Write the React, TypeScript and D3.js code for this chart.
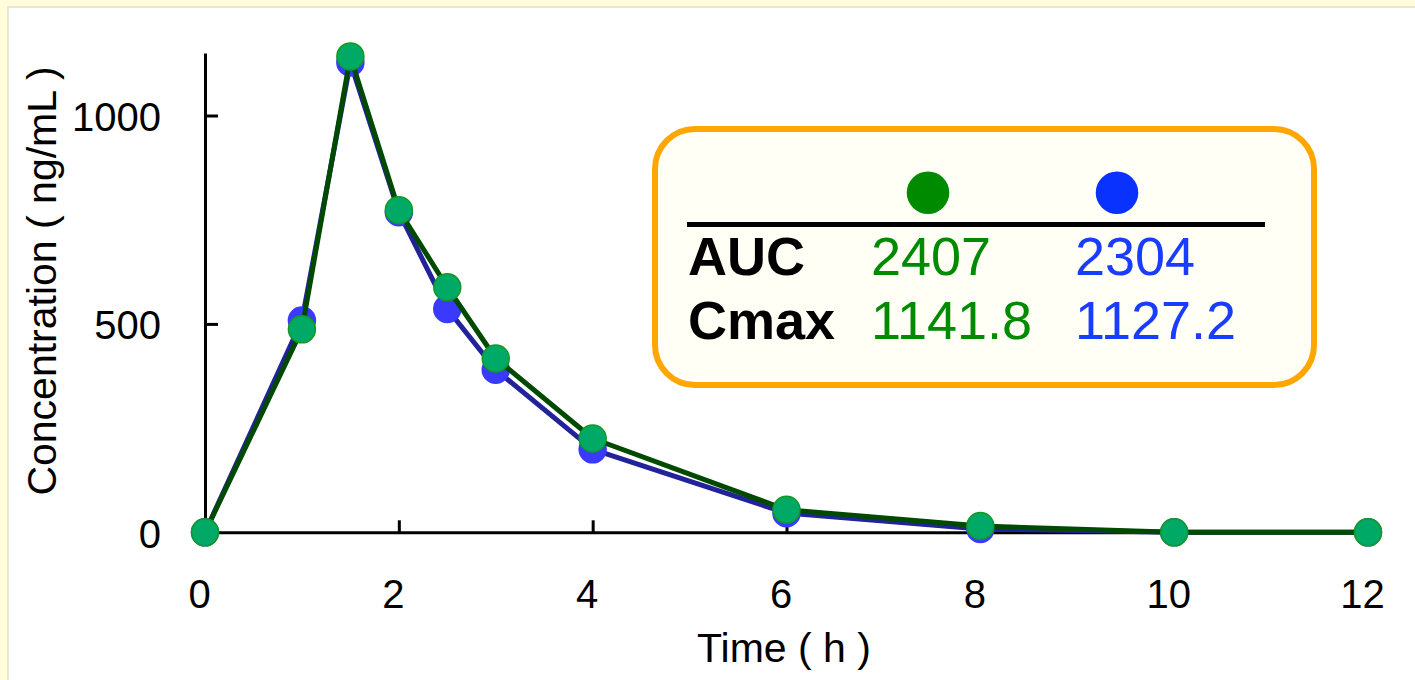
import { useEffect, useRef } from 'react';
import * as d3 from 'd3';

// sampling times (h) and mean concentrations (ng/mL)
const times = [0, 1, 1.5, 2, 2.5, 3, 4, 6, 8, 10, 12];
const greenConc = [0, 487, 1141.8, 773, 588, 417, 225, 54, 15, 0, 0];
const blueConc = [0, 508, 1127.2, 768, 536, 390, 199, 46, 8, 0, 0];

const xTicks = [0, 2, 4, 6, 8, 10, 12];
const yTicks = [0, 500, 1000];

// summary table in the inset box
const statLabels = ['AUC', 'Cmax'];
const greenStats = ['2407', '1141.8'];
const blueStats = ['2304', '1127.2'];

const W = 1415;
const H = 680;
const FONT = '"Liberation Sans", Arial, Helvetica, sans-serif';

type Pt = { t: number; c: number };

const App = () => {
  const chartRef = useRef<SVGSVGElement | null>(null);

  useEffect(() => {
    const svg = d3.select(chartRef.current);
    svg.selectAll('*').remove();

    // page background + white panel
    svg.append('rect').attr('width', W).attr('height', H).attr('fill', '#fffcdc');
    svg.append('rect')
      .attr('x', 8).attr('y', 7).attr('width', W).attr('height', H)
      .attr('fill', '#ffffff').attr('stroke', '#e2dfc6').attr('stroke-width', 1.5);

    const xScale = d3.scaleLinear().domain([0, 12]).range([205, 1368]);
    const yScale = d3.scaleLinear().domain([0, 1150]).range([532.3, 53]);

    // axes
    const gx = svg.append('g')
      .attr('transform', `translate(0, ${yScale(0)})`)
      .call(d3.axisBottom(xScale).tickValues(xTicks).tickSize(-12).tickSizeOuter(0).tickFormat(d => String(d)));
    gx.selectAll('text')
      .attr('y', 76).attr('dy', 0).attr('dx', -6)
      .style('font-size', '40px').style('font-family', FONT).attr('fill', '#000');

    const gy = svg.append('g')
      .attr('transform', `translate(${xScale(0)}, 0)`)
      .call(d3.axisLeft(yScale).tickValues(yTicks).tickSize(-13).tickSizeOuter(0).tickFormat(d => String(d)));
    gy.selectAll('text')
      .attr('x', -44).attr('dy', 15)
      .style('font-size', '40px').style('font-family', FONT).attr('fill', '#000');

    svg.selectAll('.domain, .tick line').attr('stroke', '#000').attr('stroke-width', 3);

    // axis titles
    svg.append('text')
      .attr('x', 784).attr('y', 662)
      .attr('text-anchor', 'middle')
      .style('font-size', '41px').style('font-family', FONT)
      .text('Time ( h )');
    svg.append('text')
      .attr('transform', 'translate(56, 281) rotate(-90)')
      .attr('text-anchor', 'middle')
      .style('font-size', '41px').style('font-family', FONT)
      .text('Concentration ( ng/mL )');

    const line = d3.line<Pt>()
      .x(d => xScale(d.t))
      .y(d => yScale(d.c));

    const series = [
      { data: times.map((t, i) => ({ t, c: blueConc[i] })), stroke: '#22229a', fill: '#3a3aff', edge: '#3a3aff' },
      { data: times.map((t, i) => ({ t, c: greenConc[i] })), stroke: '#004a00', fill: '#00aa66', edge: '#119a22' },
    ];

    series.forEach(s => {
      svg.append('path')
        .datum<Pt[]>(s.data)
        .attr('fill', 'none')
        .attr('stroke', s.stroke)
        .attr('stroke-width', 5)
        .attr('stroke-linejoin', 'round')
        .attr('d', line);
      svg.append('g')
        .selectAll('circle')
        .data(s.data)
        .join('circle')
        .attr('cx', d => xScale(d.t))
        .attr('cy', d => yScale(d.c))
        .attr('r', 13.5)
        .attr('fill', s.fill)
        .attr('stroke', s.edge)
        .attr('stroke-width', 1.5);
    });

    // inset summary box
    const box = svg.append('g');
    box.append('rect')
      .attr('x', 655).attr('y', 129).attr('width', 659).attr('height', 256)
      .attr('rx', 40).attr('ry', 40)
      .attr('fill', '#fffff6').attr('stroke', '#ffa600').attr('stroke-width', 6);

    box.append('circle').attr('cx', 928).attr('cy', 192.7).attr('r', 21.3).attr('fill', '#008a00');
    box.append('circle').attr('cx', 1117).attr('cy', 192.7).attr('r', 21.3).attr('fill', '#0a32ff');
    box.append('line')
      .attr('x1', 687).attr('x2', 1265).attr('y1', 224.5).attr('y2', 224.5)
      .attr('stroke', '#000').attr('stroke-width', 5);

    const rowY = [275, 339];
    statLabels.forEach((lab, i) => {
      box.append('text')
        .attr('x', 688).attr('y', rowY[i])
        .style('font-size', '54px').style('font-family', FONT).style('font-weight', 'bold')
        .text(lab);
      box.append('text')
        .attr('x', 871).attr('y', rowY[i]).attr('fill', '#008a00')
        .style('font-size', '54px').style('font-family', FONT)
        .text(greenStats[i]);
      box.append('text')
        .attr('x', 1075).attr('y', rowY[i]).attr('fill', '#1a3cff')
        .style('font-size', '54px').style('font-family', FONT)
        .text(blueStats[i]);
    });
  }, []);

  return (
    <svg
      ref={chartRef}
      width={W}
      height={H}
      style={{ position: 'fixed', left: 0, top: 0, display: 'block' }}
    ></svg>
  );
};

export default App;
